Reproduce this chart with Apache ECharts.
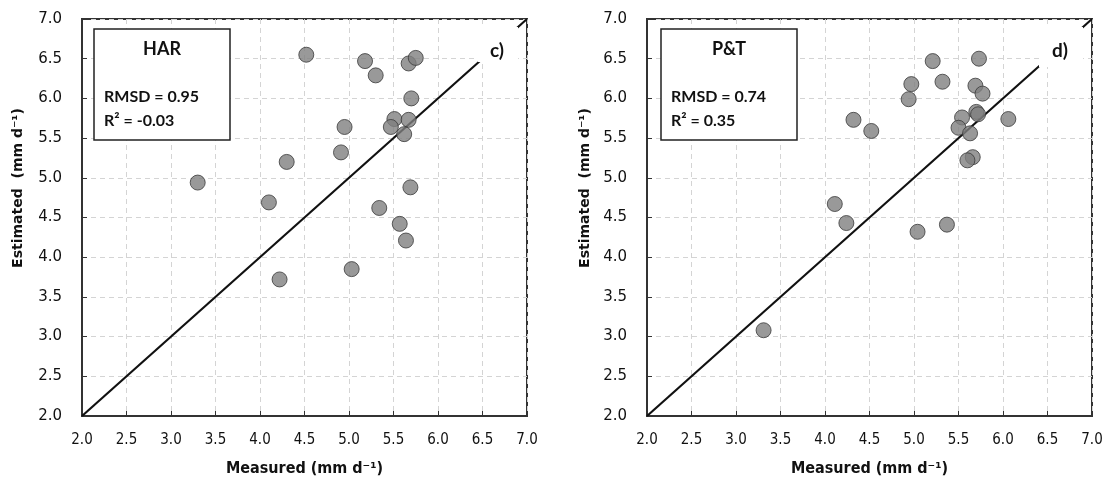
<!DOCTYPE html>
<html>
<head>
<meta charset="utf-8">
<script src="https://cdn.jsdelivr.net/npm/echarts@6/dist/echarts.min.js"></script>
<style>html,body{margin:0;padding:0;background:#fff}#c{width:1108px;height:485px}</style>
</head>
<body>
<div id="c"></div>
<script>
// Measured vs estimated (mm d-1)
var harData = [
  [4.52,6.55],[5.18,6.47],[5.67,6.44],[5.75,6.51],[5.30,6.29],[5.70,6.00],
  [5.51,5.74],[5.67,5.73],[5.47,5.64],[4.95,5.64],[5.62,5.55],[4.91,5.32],
  [4.30,5.20],[3.30,4.94],[5.69,4.88],[4.10,4.69],[5.34,4.62],[5.57,4.42],
  [5.64,4.21],[5.03,3.85],[4.22,3.72]
];
var ptData = [
  [5.21,6.47],[5.73,6.50],[4.97,6.18],[5.32,6.21],[5.69,6.16],[5.77,6.06],
  [4.94,5.99],[5.70,5.83],[5.72,5.80],[5.54,5.76],[6.06,5.74],[4.32,5.73],
  [4.52,5.59],[5.50,5.63],[5.63,5.56],[5.66,5.26],[5.60,5.22],[4.11,4.67],
  [4.24,4.43],[5.04,4.32],[5.37,4.41],[3.31,3.08]
];
var oneToOne = [[2,2],[7,7]];
var panelTitles = ['HAR','P&T'];
var panelLetters = ['c)','d)'];
var rmsdVals = ['0.95','0.74'];
var r2Vals = ['-0.03','0.35'];
var axisMin = 2, axisMax = 7, axisStep = 0.5;

var chart = echarts.init(document.getElementById('c'));
var frame = '#333';
function xAx(i){
  return {
    type:'value', gridIndex:i, min:axisMin, max:axisMax, interval:axisStep,
    name:'Measured (mm d\u207B\u00B9)', nameLocation:'middle', nameGap:45,
    nameTextStyle:{fontFamily:"'Liberation Sans Narrow','DejaVu Sans Condensed',sans-serif",fontWeight:'bold',fontSize:16,color:'#111',verticalAlign:'top'},
    axisLine:{show:true,onZero:false,lineStyle:{color:frame,width:2}},
    axisTick:{show:true,inside:true,length:5,lineStyle:{color:frame,width:1}},
    axisLabel:{margin:17,fontSize:15,color:'#111',fontFamily:"'Liberation Sans Narrow','DejaVu Sans Condensed',sans-serif",formatter:function(v){return v.toFixed(1);}},
    splitLine:{show:true,lineStyle:{color:'#d4d4d4',type:[5,4],width:1}}
  };
}
function yAx(i){
  return {
    type:'value', gridIndex:i, min:axisMin, max:axisMax, interval:axisStep,
    axisLine:{show:true,onZero:false,lineStyle:{color:frame,width:2}},
    axisTick:{show:true,inside:true,length:5,lineStyle:{color:frame,width:1}},
    axisLabel:{margin:20,fontSize:15,color:'#111',fontFamily:"'DejaVu Sans',sans-serif",formatter:function(v){return v.toFixed(1);}},
    splitLine:{show:true,lineStyle:{color:'#d4d4d4',type:[5,4],width:1}}
  };
}
function scatter(i,d){
  return {type:'scatter',xAxisIndex:i,yAxisIndex:i,data:d,symbolSize:15,z:5,
    itemStyle:{color:'#7f7f7f',borderColor:'#3a3a3a',borderWidth:1}};
}
function diag(i){
  return {type:'line',xAxisIndex:i,yAxisIndex:i,data:oneToOne,symbol:'none',z:3,
    lineStyle:{color:'#111',width:2.2},silent:true};
}
var boxes = [{x:94,letterRect:[478,27,40,35],lx:497},{x:661,letterRect:[1039,27,44,40],lx:1060}];
var graphics = [];
boxes.forEach(function(b,i){
  graphics.push({type:'rect',z:100,shape:{x:b.letterRect[0],y:b.letterRect[1],width:b.letterRect[2],height:b.letterRect[3]},style:{fill:'#fff'}});
  graphics.push({type:'text',z:101,x:b.lx,y:51,style:{text:panelLetters[i],font:"bold 19px Lato, 'Open Sans', sans-serif",fill:'#111',align:'center',verticalAlign:'middle'}});
  graphics.push({type:'rect',z:100,shape:{x:b.x,y:29,width:136,height:111},style:{fill:'#fff',stroke:'#222',lineWidth:1.5}});
  graphics.push({type:'text',z:101,x:b.x+68,y:49,style:{text:panelTitles[i],font:"bold 18px Lato, 'Open Sans', sans-serif",fill:'#111',align:'center',verticalAlign:'middle'}});
  graphics.push({type:'text',z:101,x:b.x+10,y:97,style:{text:'RMSD = '+rmsdVals[i],font:"bold 16px Lato, 'Open Sans', sans-serif",fill:'#111',align:'left',verticalAlign:'middle'}});
  graphics.push({type:'text',z:101,x:b.x+10,y:121,style:{text:'R\u00B2 = '+r2Vals[i],font:"bold 16px Lato, 'Open Sans', sans-serif",fill:'#111',align:'left',verticalAlign:'middle'}});
});
[18,585].forEach(function(xp){
  graphics.push({type:'text',z:101,x:xp,y:188,rotation:Math.PI/2,style:{text:'Estimated  (mm d\u207B\u00B9)',font:"bold 14px 'DejaVu Sans', sans-serif",fill:'#111',align:'center',verticalAlign:'middle'}});
});

chart.setOption({
  animation:false,
  grid:[
    {left:82,right:581,top:19,bottom:69,show:true,borderColor:frame,borderWidth:2,containLabel:false},
    {left:647,right:16,top:19,bottom:69,show:true,borderColor:frame,borderWidth:2,containLabel:false}
  ],
  xAxis:[xAx(0),xAx(1)],
  yAxis:[yAx(0),yAx(1)],
  series:[diag(0),scatter(0,harData),diag(1),scatter(1,ptData)],
  graphic:graphics
});
</script>
</body>
</html>
